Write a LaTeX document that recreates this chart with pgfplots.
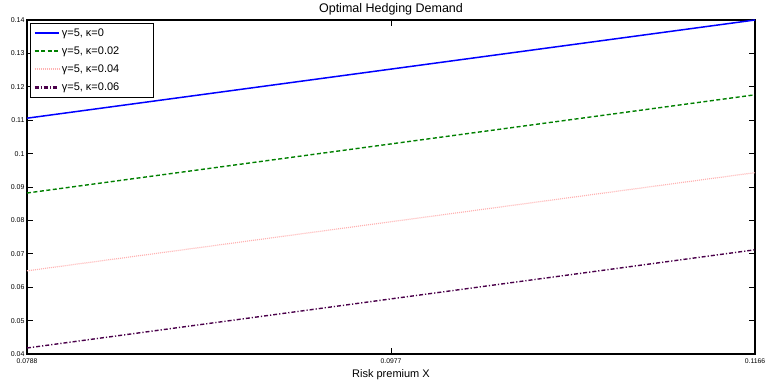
\documentclass[border=0pt]{standalone}
\usepackage{fontspec}
\setmainfont{Liberation Sans}
\usepackage{pgfplots}
\pgfplotsset{compat=1.18}
\usetikzlibrary{calc}
\definecolor{mgreen}{rgb}{0,0.5,0}
\definecolor{mpink}{rgb}{1,0.7,0.7}
\definecolor{mpurple}{rgb}{0.29,0,0.29}
\begin{document}
\begin{tikzpicture}
\begin{axis}[
  name=ax,
  scale only axis,
  width=728pt, height=334pt,
  xmin=0.0788, xmax=0.1166,
  ymin=0.04, ymax=0.14,
  xtick={0.0788,0.0977,0.1166},
  xticklabels={0.0788,0.0977,0.1166},
  ytick={0.04,0.05,0.06,0.07,0.08,0.09,0.1,0.11,0.12,0.13,0.14},
  yticklabels={0.04,0.05,0.06,0.07,0.08,0.09,0.1,0.11,0.12,0.13,0.14},
  /pgf/number format/assume math mode=true,
  tick align=inside,
  major tick length=6pt,
  tick style={black, line width=0.8pt},
  axis line style={black, line width=1.2pt},
  xticklabel style={font=\fontsize{6.8}{7}\selectfont, inner sep=1pt, yshift=-4pt},
  yticklabel style={font=\fontsize{7}{8}\selectfont, xshift=1pt},
  xlabel={Risk premium X},
  xlabel style={font=\fontsize{11}{12}\selectfont, inner sep=0pt, yshift=-4pt},
  title={Optimal Hedging Demand},
  title style={font=\fontsize{12.5}{13}\selectfont, yshift=-5pt},
  legend style={at={(0,1)}, anchor=north west, xshift=3pt, yshift=-3pt,
    font=\fontsize{11}{13}\selectfont, draw=black, line width=0.9pt,
    inner xsep=3pt, inner ysep=3pt, row sep=5pt, cells={anchor=west}},
  legend image code/.code={\draw[draw,#1,line width=2.2pt] plot coordinates {(0cm,0pt)(0.85cm,0pt)};},
  legend cell align=left,
]
\addplot[color=blue, line width=1.5pt] coordinates {(0.0788,0.1106) (0.0977,0.1253) (0.1166,0.1400)};
\addlegendentry{γ=5, κ=0}
\addplot[color=mgreen, line width=1.4pt, dash pattern=on 4pt off 2.5pt] coordinates {(0.0788,0.0882) (0.0977,0.1029) (0.1166,0.1176)};
\addlegendentry{γ=5, κ=0.02\hspace*{29pt}}
\addplot[color=mpink, line width=1.2pt, dash pattern=on 1pt off 1pt] coordinates {(0.0788,0.0649) (0.0977,0.0796) (0.1166,0.0943)};
\addlegendentry{γ=5, κ=0.04}
\addplot[color=mpurple, line width=1.4pt, dash pattern=on 4pt off 2pt on 1.2pt off 2pt] coordinates {(0.0788,0.0418) (0.0977,0.0565) (0.1166,0.0712)};
\addlegendentry{γ=5, κ=0.06}
\end{axis}
\pgfresetboundingbox
\useasboundingbox ($(ax.south west)+(-27pt,-29pt)$) rectangle ($(ax.north east)+(10pt,20pt)$);
\end{tikzpicture}
\end{document}
